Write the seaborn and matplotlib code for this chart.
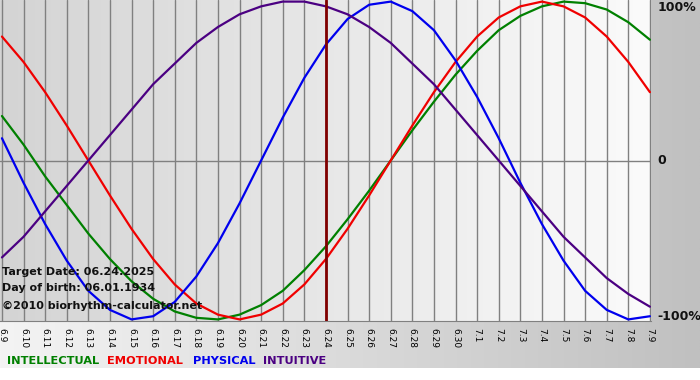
import numpy as np
import pandas as pd
import seaborn as sns
import matplotlib.pyplot as plt
from matplotlib.colors import LinearSegmentedColormap

### data (one value per day, -1 .. 1)
dates = ["6.9", "6.10", "6.11", "6.12", "6.13", "6.14", "6.15", "6.16", "6.17", "6.18",
         "6.19", "6.20", "6.21", "6.22", "6.23", "6.24", "6.25", "6.26", "6.27", "6.28",
         "6.29", "6.30", "7.1", "7.2", "7.3", "7.4", "7.5", "7.6", "7.7", "7.8", "7.9"]

physical = [0.14, -0.14, -0.40, -0.63, -0.82, -0.94, -1.00, -0.98, -0.89, -0.73,
            -0.52, -0.27, 0.00, 0.27, 0.52, 0.73, 0.89, 0.98, 1.00, 0.94,
            0.82, 0.63, 0.40, 0.14, -0.14, -0.40, -0.63, -0.82, -0.94, -1.00, -0.98]
emotional = [0.78, 0.62, 0.43, 0.22, 0.00, -0.22, -0.43, -0.62, -0.78, -0.90,
             -0.97, -1.00, -0.97, -0.90, -0.78, -0.62, -0.43, -0.22, 0.00, 0.22,
             0.43, 0.62, 0.78, 0.90, 0.97, 1.00, 0.97, 0.90, 0.78, 0.62, 0.43]
intellectual = [0.28, 0.10, -0.10, -0.28, -0.46, -0.62, -0.76, -0.87, -0.95, -0.99,
                -1.00, -0.97, -0.91, -0.82, -0.69, -0.54, -0.37, -0.19, 0.00, 0.19,
                0.37, 0.54, 0.69, 0.82, 0.91, 0.97, 1.00, 0.99, 0.95, 0.87, 0.76]
intuitive = [-0.61, -0.48, -0.32, -0.16, 0.00, 0.16, 0.32, 0.48, 0.61, 0.74,
             0.84, 0.92, 0.97, 1.00, 1.00, 0.97, 0.92, 0.84, 0.74, 0.61,
             0.48, 0.32, 0.16, 0.00, -0.16, -0.32, -0.48, -0.61, -0.74, -0.84, -0.92]

target_label = "6.24"
cycles = ["INTELLECTUAL", "EMOTIONAL", "PHYSICAL", "INTUITIVE"]
colors = {"INTELLECTUAL": "#008000", "EMOTIONAL": "#f00000",
          "PHYSICAL": "#0000ee", "INTUITIVE": "#4b0082"}

rows = []
for name, vals in zip(cycles, [intellectual, emotional, physical, intuitive]):
    for i, v in enumerate(vals):
        rows.append({"day": i, "value": v, "cycle": name})
df = pd.DataFrame(rows)

sns.set_style("white")
plt.rcParams['font.family'] = ['DejaVu Sans']

fig = plt.figure(figsize=(7, 3.8), dpi=100)

# figure background: gradient band behind everything
bg = fig.add_axes([0, 0, 1, 1], zorder=0)
grad = np.linspace(0, 1, 256)
band = np.vstack([grad] * 2)
bg.imshow(band, cmap=LinearSegmentedColormap.from_list("b", ["#f4f4f4", "#c0c0c0"]),
          extent=[0, 1, 12 / 380, 1], aspect="auto", vmin=0, vmax=1)
bg.set_xlim(0, 1)
bg.set_ylim(0, 1)
bg.axis("off")

ax = fig.add_axes([0, 59 / 380, 651 / 700, 321 / 380], zorder=1)
xmin, xmax = -0.09, 30.05
ax.imshow(band, cmap=LinearSegmentedColormap.from_list("p", ["#d4d4d4", "#fbfbfb"]),
          extent=[xmin, xmax, -1.01, 1.01], aspect="auto", zorder=0)

for i in range(len(dates)):
    ax.axvline(i, color="#808080", lw=1, zorder=1)
ax.axhline(0, color="#808080", lw=1, zorder=1)

sns.lineplot(data=df, x="day", y="value", hue="cycle", palette=colors,
             hue_order=cycles, lw=1.6, legend=False, ax=ax, zorder=3)

ax.axvline(dates.index(target_label), color="#800000", lw=2, zorder=4)

ax.set_xlim(xmin, xmax)
ax.set_ylim(-1.01, 1.01)
ax.set_xticks(range(len(dates)))
ax.set_xticklabels(dates, rotation=-90, fontsize=6.5, color="black")
ax.tick_params(axis="x", direction="out", length=4, color="#808080", pad=1)
ax.set_yticks([])
ax.set_xlabel("")
ax.set_ylabel("")
for s in ["top", "left", "right"]:
    ax.spines[s].set_visible(False)
ax.spines["bottom"].set_color("#808080")

# right side percent labels
for v, lab in [(0.96, "100%"), (0.0, "0"), (-0.98, "-100%")]:
    ax.text(30.35, v, lab, fontsize=9, fontweight="bold", color="#111111",
            va="center", ha="left", clip_on=False)

# info text
ax.text(0.0, -0.70, "Target Date: 06.24.2025", fontsize=8, fontweight="bold", va="center", color="#111111")
ax.text(0.0, -0.80, "Day of birth: 06.01.1934", fontsize=8, fontweight="bold", va="center", color="#111111")
ax.text(0.0, -0.915, "\u00a92010 biorhythm-calculator.net", fontsize=8, fontweight="bold", va="center", color="#111111")

# colored legend row
xpos = 7
widths = {"INTELLECTUAL": 100, "EMOTIONAL": 86, "PHYSICAL": 70, "INTUITIVE": 70}
for name in cycles:
    fig.text(xpos / 700, 1 - 361 / 380, name, color=colors[name], fontsize=8.2,
             fontweight="bold", va="center", ha="left")
    xpos += widths[name]

plt.savefig("out.png", dpi=100)
